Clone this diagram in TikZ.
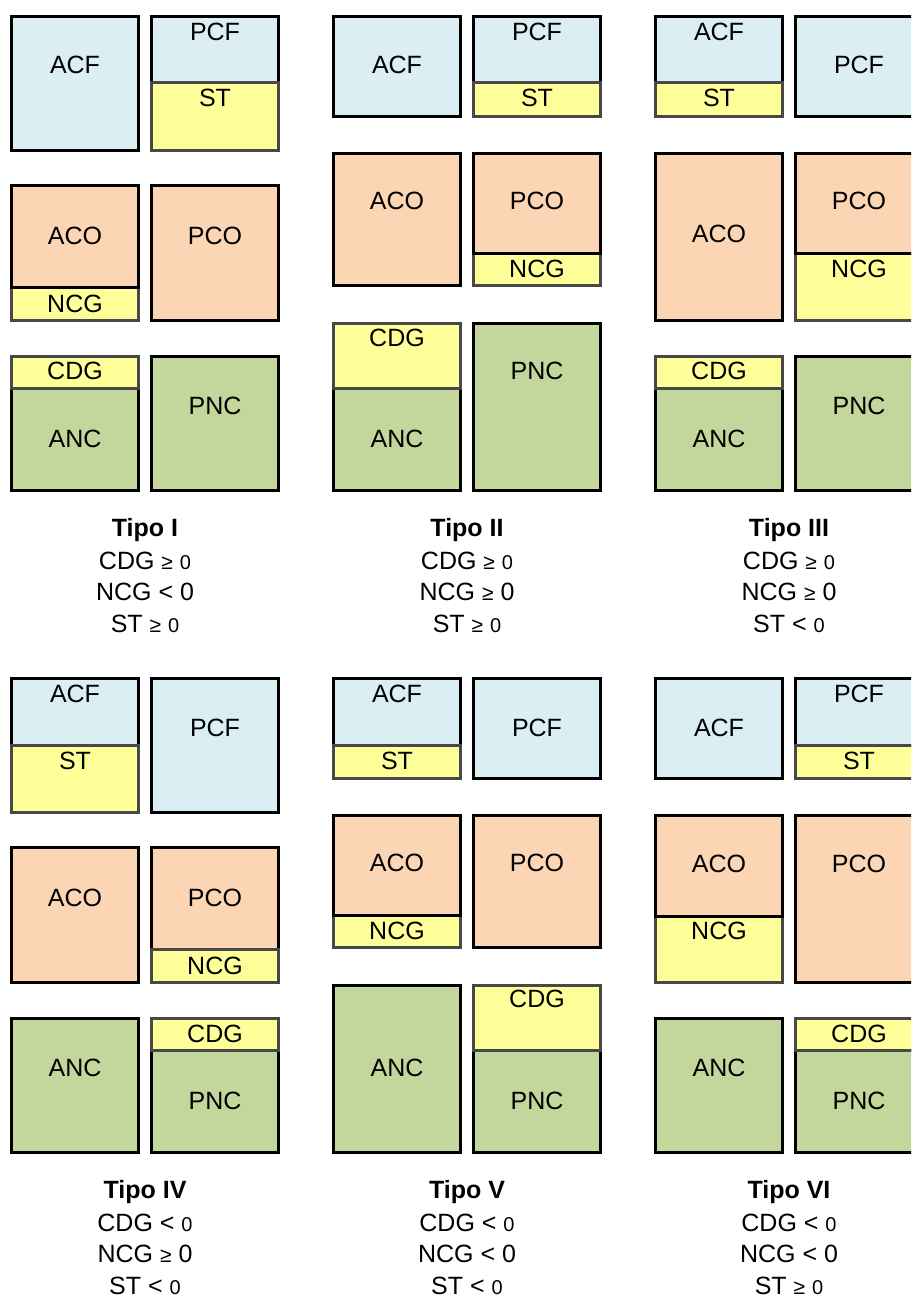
\documentclass[tikz,border=0pt]{standalone}
\usepackage{fontspec}
\setmainfont{Liberation Sans}
\usepackage{xcolor}
\definecolor{cfblue}{HTML}{DBEEF4}
\definecolor{coorange}{HTML}{FCD5B5}
\definecolor{ncgreen}{HTML}{C3D69B}
\definecolor{fmyellow}{HTML}{FFFF99}
\definecolor{fmedge}{HTML}{484848}
\newcommand{\sge}{{\fontsize{21}{21}\selectfont ≥}}
\newcommand{\szero}{{\fontsize{20}{20}\selectfont 0}}

\begin{document}
\begin{tikzpicture}[x=1pt, y=-1pt,
    cf/.style={fill=cfblue, draw=black, line width=3pt},
    co/.style={fill=coorange, draw=black, line width=3pt},
    nc/.style={fill=ncgreen, draw=black, line width=3pt},
    fm/.style={fill=fmyellow, draw=fmedge, line width=3pt},
    lbl/.style={anchor=base, inner sep=0pt, font=\fontsize{25}{25}\selectfont},
    tipo/.style={lbl, font=\fontsize{25}{25}\selectfont\bfseries}]

\clip (0,0) rectangle (911,1300);
\fill[white] (0,0) rectangle (911,1300);

% Tipo I
\begin{scope}[shift={(10,0)}]
\filldraw[cf] (1.5,16.5) rectangle (128.5,150.5);
\filldraw[cf] (141.5,16.5) rectangle (268.5,83);
\filldraw[fm] (141.5,83) rectangle (268.5,150.5);
\node[lbl] (acf1) at (65,74) {ACF};
\node[lbl] (pcf1) at (205,41) {PCF};
\node[lbl] (st1) at (205,107) {ST};
\filldraw[fm] (1.5,287) rectangle (128.5,320.5);
\filldraw[co] (1.5,185.5) rectangle (128.5,287);
\filldraw[co] (141.5,185.5) rectangle (268.5,320.5);
\node[lbl] (aco1) at (65,244) {ACO};
\node[lbl] (ncg1) at (65,312) {NCG};
\node[lbl] (pco1) at (205,244) {PCO};
\filldraw[nc] (1.5,388) rectangle (128.5,490.5);
\filldraw[fm] (1.5,356.5) rectangle (128.5,388);
\filldraw[nc] (141.5,356.5) rectangle (268.5,490.5);
\node[lbl] (cdg1) at (65,379) {CDG};
\node[lbl] (anc1) at (65,447) {ANC};
\node[lbl] (pnc1) at (205,414) {PNC};
\node[tipo] (t1) at (135,536) {Tipo I};
\node[lbl] (t1cdg) at (135,569) {CDG \sge{} \szero};
\node[lbl] (t1ncg) at (135,600) {NCG < 0};
\node[lbl] (t1st) at (135,632) {ST \sge{} \szero};
\end{scope}

% Tipo II
\begin{scope}[shift={(332,0)}]
\filldraw[cf] (1.5,16.5) rectangle (128.5,116.5);
\filldraw[cf] (141.5,16.5) rectangle (268.5,83);
\filldraw[fm] (141.5,83) rectangle (268.5,116.5);
\node[lbl] (acf2) at (65,74) {ACF};
\node[lbl] (pcf2) at (205,41) {PCF};
\node[lbl] (st2) at (205,107) {ST};
\filldraw[co] (1.5,153.5) rectangle (128.5,285.5);
\filldraw[fm] (141.5,253) rectangle (268.5,285.5);
\filldraw[co] (141.5,153.5) rectangle (268.5,253);
\node[lbl] (aco2) at (65,209) {ACO};
\node[lbl] (pco2) at (205,209) {PCO};
\node[lbl] (ncg2) at (205,277) {NCG};
\filldraw[nc] (1.5,388) rectangle (128.5,490.5);
\filldraw[fm] (1.5,323.5) rectangle (128.5,388);
\filldraw[nc] (141.5,323.5) rectangle (268.5,490.5);
\node[lbl] (cdg2) at (65,346) {CDG};
\node[lbl] (anc2) at (65,447) {ANC};
\node[lbl] (pnc2) at (205,379) {PNC};
\node[tipo] (t2) at (135,536) {Tipo II};
\node[lbl] (t2cdg) at (135,569) {CDG \sge{} \szero};
\node[lbl] (t2ncg) at (135,600) {NCG \sge{} 0};
\node[lbl] (t2st) at (135,632) {ST \sge{} \szero};
\end{scope}

% Tipo III
\begin{scope}[shift={(654,0)}]
\filldraw[cf] (1.5,16.5) rectangle (128.5,83);
\filldraw[fm] (1.5,83) rectangle (128.5,116.5);
\filldraw[cf] (141.5,16.5) rectangle (268.5,116.5);
\node[lbl] (acf3) at (65,41) {ACF};
\node[lbl] (st3) at (65,107) {ST};
\node[lbl] (pcf3) at (205,74) {PCF};
\filldraw[co] (1.5,153.5) rectangle (128.5,320.5);
\filldraw[fm] (141.5,253) rectangle (268.5,320.5);
\filldraw[co] (141.5,153.5) rectangle (268.5,253);
\node[lbl] (aco3) at (65,242) {ACO};
\node[lbl] (pco3) at (205,209) {PCO};
\node[lbl] (ncg3) at (205,277) {NCG};
\filldraw[nc] (1.5,388) rectangle (128.5,490.5);
\filldraw[fm] (1.5,356.5) rectangle (128.5,388);
\filldraw[nc] (141.5,356.5) rectangle (268.5,490.5);
\node[lbl] (cdg3) at (65,379) {CDG};
\node[lbl] (anc3) at (65,447) {ANC};
\node[lbl] (pnc3) at (205,414) {PNC};
\node[tipo] (t3) at (135,536) {Tipo III};
\node[lbl] (t3cdg) at (135,569) {CDG \sge{} \szero};
\node[lbl] (t3ncg) at (135,600) {NCG \sge{} 0};
\node[lbl] (t3st) at (135,632) {ST < \szero};
\end{scope}

% Tipo IV
\begin{scope}[shift={(10,662)}]
\filldraw[cf] (1.5,16.5) rectangle (128.5,83);
\filldraw[fm] (1.5,83) rectangle (128.5,150.5);
\filldraw[cf] (141.5,16.5) rectangle (268.5,150.5);
\node[lbl] (acf4) at (65,40) {ACF};
\node[lbl] (st4) at (65,107) {ST};
\node[lbl] (pcf4) at (205,74) {PCF};
\filldraw[co] (1.5,185.5) rectangle (128.5,320.5);
\filldraw[co] (141.5,185.5) rectangle (268.5,287);
\filldraw[fm] (141.5,287) rectangle (268.5,320.5);
\node[lbl] (aco4) at (65,244) {ACO};
\node[lbl] (pco4) at (205,244) {PCO};
\node[lbl] (ncg4) at (205,312) {NCG};
\filldraw[nc] (1.5,356.5) rectangle (128.5,490.5);
\filldraw[nc] (141.5,388) rectangle (268.5,490.5);
\filldraw[fm] (141.5,356.5) rectangle (268.5,388);
\node[lbl] (anc4) at (65,414) {ANC};
\node[lbl] (cdg4) at (205,380) {CDG};
\node[lbl] (pnc4) at (205,447) {PNC};
\node[tipo] (t4) at (135,536) {Tipo IV};
\node[lbl] (t4cdg) at (135,569) {CDG < \szero};
\node[lbl] (t4ncg) at (135,600) {NCG \sge{} 0};
\node[lbl] (t4st) at (135,632) {ST < \szero};
\end{scope}

% Tipo V
\begin{scope}[shift={(332,662)}]
\filldraw[cf] (1.5,16.5) rectangle (128.5,83);
\filldraw[fm] (1.5,83) rectangle (128.5,116.5);
\filldraw[cf] (141.5,16.5) rectangle (268.5,116.5);
\node[lbl] (acf5) at (65,40) {ACF};
\node[lbl] (st5) at (65,107) {ST};
\node[lbl] (pcf5) at (205,74) {PCF};
\filldraw[fm] (1.5,253) rectangle (128.5,285.5);
\filldraw[co] (1.5,153.5) rectangle (128.5,253);
\filldraw[co] (141.5,153.5) rectangle (268.5,285.5);
\node[lbl] (aco5) at (65,209) {ACO};
\node[lbl] (ncg5) at (65,277) {NCG};
\node[lbl] (pco5) at (205,209) {PCO};
\filldraw[nc] (1.5,323.5) rectangle (128.5,490.5);
\filldraw[nc] (141.5,388) rectangle (268.5,490.5);
\filldraw[fm] (141.5,323.5) rectangle (268.5,388);
\node[lbl] (anc5) at (65,414) {ANC};
\node[lbl] (cdg5) at (205,345) {CDG};
\node[lbl] (pnc5) at (205,447) {PNC};
\node[tipo] (t5) at (135,536) {Tipo V};
\node[lbl] (t5cdg) at (135,569) {CDG < \szero};
\node[lbl] (t5ncg) at (135,600) {NCG < 0};
\node[lbl] (t5st) at (135,632) {ST < \szero};
\end{scope}

% Tipo VI
\begin{scope}[shift={(654,662)}]
\filldraw[cf] (1.5,16.5) rectangle (128.5,116.5);
\filldraw[cf] (141.5,16.5) rectangle (268.5,83);
\filldraw[fm] (141.5,83) rectangle (268.5,116.5);
\node[lbl] (acf6) at (65,74) {ACF};
\node[lbl] (pcf6) at (205,40) {PCF};
\node[lbl] (st6) at (205,107) {ST};
\filldraw[fm] (1.5,254) rectangle (128.5,320.5);
\filldraw[co] (1.5,153.5) rectangle (128.5,254);
\filldraw[co] (141.5,153.5) rectangle (268.5,320.5);
\node[lbl] (aco6) at (65,210) {ACO};
\node[lbl] (ncg6) at (65,277) {NCG};
\node[lbl] (pco6) at (205,210) {PCO};
\filldraw[nc] (1.5,356.5) rectangle (128.5,490.5);
\filldraw[nc] (141.5,388) rectangle (268.5,490.5);
\filldraw[fm] (141.5,356.5) rectangle (268.5,388);
\node[lbl] (anc6) at (65,414) {ANC};
\node[lbl] (cdg6) at (205,380) {CDG};
\node[lbl] (pnc6) at (205,447) {PNC};
\node[tipo] (t6) at (135,536) {Tipo VI};
\node[lbl] (t6cdg) at (135,569) {CDG < \szero};
\node[lbl] (t6ncg) at (135,600) {NCG < 0};
\node[lbl] (t6st) at (135,632) {ST \sge{} \szero};
\end{scope}

\end{tikzpicture}
\end{document}
